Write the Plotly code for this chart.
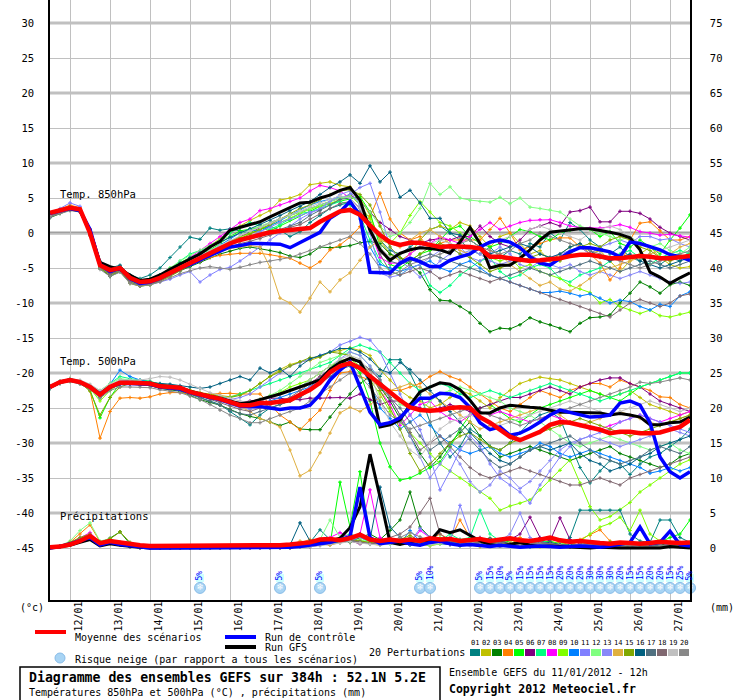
import plotly.graph_objects as go

W, H = 740, 700
FONT = "DejaVu Sans Mono"

# GEFS run of 11/01/2012 12h, one value every 6 h up to 384 h
HOURS = list(range(0, 385, 6))

DATE_LABELS = ["12/01", "13/01", "14/01", "15/01", "16/01", "17/01", "18/01", "19/01",
               "20/01", "21/01", "22/01", "23/01", "24/01", "25/01", "26/01", "27/01"]
DATE_HOURS = [12 + 24 * k for k in range(len(DATE_LABELS))]

LEFT_TICKS = [30, 25, 20, 15, 10, 5, 0, -5, -10, -15, -20, -25, -30, -35, -40, -45]
RIGHT_TICKS = [75, 70, 65, 60, 55, 50, 45, 40, 35, 30, 25, 20, 15, 10, 5, 0]

MEMBER_NAMES = ["01", "02", "03", "04", "05", "06", "07", "08", "09", "10",
                "11", "12", "13", "14", "15", "16", "17", "18", "19", "20"]
MEMBER_COLORS = ["#008080", "#c0c000", "#008000", "#ff8000", "#00ff00", "#800080", "#00ff80",
                 "#ff00ff", "#80ff00", "#0080ff", "#8080ff", "#80ff80", "#8888f8", "#e0b040",
                 "#80a800", "#006080", "#507080", "#806870", "#c0c0c0", "#888888"]

# snow risk (% of all scenarios)
SNOW_HOURS = [90, 138, 162, 222, 228, 258, 264, 270, 276, 282, 288, 294, 300, 306, 312, 318,
              324, 330, 336, 342, 348, 354, 360, 366, 372, 378, 384]
SNOW_PCT = [5, 5, 5, 5, 10, 5, 15, 10, 5, 15, 15, 15, 15, 20, 20, 20, 30, 30, 30, 20, 15, 15,
            20, 20, 15, 25, 5]

# ---------------- 850 hPa temperature (degC) ----------------
t850_mean = [2.9, 3.3, 3.6, 3.4, 0.0, -4.6, -5.3, -5.0, -6.4, -7.0, -6.9, -6.4, -5.7, -5.0, -4.3,
             -3.6, -2.9, -2.1, -1.5, -1.0, -0.6, -0.2, 0.1, 0.3, 0.4, 0.5, 0.7, 1.6, 2.3, 3.1,
             3.3, 2.6, 1.1, -0.3, -1.3, -1.7, -1.4, -1.4, -1.7, -2.0, -1.9, -1.9, -2.0, -2.2, -3.4,
             -3.4, -3.6, -3.9, -4.0, -3.9, -3.8, -3.6, -3.3, -3.1, -3.1, -3.4, -3.6, -3.6, -3.4, -3.3,
             -3.4, -3.6, -3.6, -3.4, -3.3]
t850_ctrl = [2.8, 3.2, 3.5, 3.2, 0.5, -4.5, -5.5, -5.0, -6.5, -7.2, -7.0, -6.5, -5.8, -5.0, -4.5,
             -3.8, -3.2, -2.6, -2.0, -1.8, -1.5, -1.5, -1.5, -1.6, -2.1, -1.4, -0.7, 0.1, 2.1, 3.0,
             4.5, 2.5, -5.6, -5.7, -5.7, -4.3, -3.6, -4.1, -4.8, -4.8, -3.9, -3.4, -3.0, -2.0, -1.3,
             -1.0, -1.3, -2.1, -3.4, -4.3, -4.6, -3.6, -2.7, -2.1, -2.1, -2.4, -2.7, -3.4, -1.3, -1.5,
             -1.9, -2.4, -3.1, -3.4, -3.9]
t850_gfs = [2.8, 3.3, 3.5, 3.2, 0.3, -4.2, -4.8, -5.2, -6.0, -6.8, -6.6, -6.0, -5.2, -4.5, -3.8,
            -3.0, -2.0, -1.2, 0.4, 0.8, 1.1, 1.6, 2.3, 3.0, 3.6, 4.3, 4.4, 5.0, 5.4, 6.1,
            6.5, 4.7, 0.4, -2.4, -3.9, -2.9, -2.4, -2.1, -2.2, -2.4, -2.9, -1.3, 0.8, -1.5, -5.0,
            -4.6, -4.6, -3.6, -2.4, -1.0, 0.1, 0.3, 0.4, 0.6, 0.6, 0.4, 0.1, -0.2, -0.7, -2.4,
            -5.6, -6.3, -7.2, -6.4, -5.7]

t850_p01 = [2.4, 3.0, 3.8, 3.5, 0.5, -4.0, -5.0, -4.6, -6.0, -6.5, -6.0, -5.0, -3.5, -2.0, -0.6,
            -0.9, 0.7, 0.4, 0.6, 0.3, 0.0, 0.5, 1.0, 0.4, -0.5, 0.2, 1.5, 2.5, 3.5, 4.0,
            4.4, 3.0, 1.5, -1.0, -2.5, -3.0, -2.0, -1.0, 0.5, 1.0, 0.0, -1.0, -2.5, -3.0, -2.0,
            -3.5, -2.5, -3.0, -1.5, -2.0, 0.0, -1.0, 1.5, 0.5, -1.0, -2.0, -3.0, -2.0, -3.5, -4.0,
            -3.0, -4.5, -3.5, -4.0, -2.5]
t850_p02 = [2.6, 3.2, 3.6, 3.3, 0.2, -4.6, -5.8, -5.2, -6.8, -7.3, -7.0, -6.2, -5.5, -4.5, -3.5,
            -2.8, -1.8, -0.8, 0.0, 1.0, 1.8, 2.5, 3.2, 4.7, 5.0, 5.5, 6.9, 7.1, 7.3, 6.8,
            6.6, 5.0, 2.5, -1.0, -3.0, -4.0, -3.0, -1.0, 0.5, 1.0, 0.5, 1.5, 1.0, -0.5, -2.0,
            -0.5, 0.0, -1.5, -3.0, -2.5, -4.0, -3.0, -2.0, -1.5, -3.0, -2.5, -4.0, -5.5, -4.0, -3.0,
            -2.0, -3.5, -4.5, -5.0, -4.8]
t850_p03 = [2.2, 2.8, 3.3, 3.0, -0.3, -5.0, -6.2, -5.5, -7.0, -7.5, -7.3, -6.8, -6.0, -5.4, -4.8,
            -4.2, -3.5, -3.0, -2.6, -2.2, -2.0, -2.2, -2.5, -2.8, -3.3, -3.5, -3.0, -2.0, -2.1, -2.0,
            -1.8, -1.4, -1.2, -1.5, -3.0, -3.5, -4.5, -5.7, -8.1, -9.6, -9.7, -10.5, -11.4, -12.9, -14.1,
            -13.6, -13.7, -13.1, -12.1, -12.7, -13.1, -13.6, -14.1, -12.9, -12.1, -12.0, -11.7, -10.0, -8.6, -7.0,
            -7.7, -8.6, -7.4, -7.0, -7.5]
t850_p04 = [2.8, 3.4, 4.0, 3.6, 0.6, -4.3, -5.3, -4.8, -6.2, -6.8, -6.5, -6.0, -5.5, -5.0, -4.5,
            -4.0, -3.5, -3.2, -3.0, -2.9, -2.9, -2.9, -3.1, -3.4, -3.6, -4.3, -5.0, -4.1, -2.4, -1.7,
            -0.6, 0.9, 2.3, 5.7, 2.0, 0.0, -1.0, -0.5, -2.5, -1.5, -1.0, -1.0, -1.0, -1.0, 0.5,
            2.1, 0.0, -2.4, -2.0, -1.5, -1.0, -0.7, -0.7, -2.0, -3.0, -4.3, -6.7, -5.0, -1.0, 1.4,
            1.6, 0.3, -1.0, -1.0, -0.5]
t850_p05 = [2.5, 3.1, 3.4, 3.1, -0.2, -4.8, -5.9, -5.3, -6.8, -7.2, -6.8, -6.0, -5.0, -4.2, -3.5,
            -3.0, -2.4, -1.5, -0.5, 0.3, 0.6, 0.8, 0.3, 1.0, 1.8, 2.5, 3.2, 3.8, 4.2, 4.5,
            4.8, 5.2, 3.0, -2.0, -4.5, -5.0, -4.0, -3.0, -2.5, -1.0, 0.5, 1.0, -0.5, -1.5, -2.0,
            -1.5, -0.5, 0.5, 0.2, -0.5, -1.0, 0.0, 0.4, 0.7, 0.5, -0.5, 0.2, -1.5, -2.0, -1.0,
            -2.0, -3.0, -1.0, 0.7, 2.6]
t850_p06 = [2.3, 2.9, 3.4, 3.1, -0.2, -4.7, -5.6, -5.1, -6.6, -7.1, -6.9, -6.5, -6.0, -5.3, -4.5,
            -3.8, -3.0, -2.0, -1.2, -0.5, 0.0, 0.8, 1.5, 2.0, 2.5, 3.0, 3.5, 4.0, 4.5, 5.0,
            5.5, 4.5, 3.0, 1.5, 0.5, -0.5, -1.0, -1.5, -1.0, -0.8, -1.0, -0.5, -0.5, 1.0, -0.5,
            -1.5, -2.0, -1.0, 0.5, 1.0, 1.5, 1.0, 3.0, 3.2, 3.7, 1.6, 1.6, 3.1, 3.1, 2.8,
            2.0, 0.8, 0.0, -0.5, -1.0]
t850_p07 = [2.6, 3.1, 3.7, 3.4, 0.3, -4.4, -5.4, -4.9, -6.4, -6.9, -6.6, -6.0, -5.2, -4.0, -3.0,
            -2.5, -2.0, -1.0, 0.0, 0.8, 1.5, 1.0, 0.5, 1.2, 2.0, 2.8, 3.0, 3.5, 4.0, 4.5,
            4.0, 2.5, -1.0, -4.0, -5.5, -6.0, -5.0, -4.5, -7.5, -8.5, -7.5, -6.0, -5.0, -4.0, -3.5,
            -5.5, -6.5, -6.0, -5.0, -4.5, -5.0, -6.5, -7.0, -6.0, -5.5, -5.0, -4.0, -3.0, -2.5, -3.5,
            -4.5, -3.5, -3.0, -2.5, -3.0]
t850_p08 = [2.5, 3.0, 3.5, 3.2, 0.0, -4.5, -5.4, -5.0, -6.5, -7.0, -6.8, -6.3, -5.5, -4.5, -3.5,
            -2.5, -1.5, -0.5, 0.5, 1.5, 2.0, 3.2, 3.5, 4.0, 4.5, 5.0, 6.0, 6.8, 6.5, 6.0,
            5.0, 3.5, 0.5, -3.5, -4.3, -4.3, -3.0, -2.0, -1.5, -0.5, -1.0, -1.5, -0.5, 0.5, 1.5,
            0.5, 1.0, 1.5, 1.8, 1.9, 1.9, 1.5, 1.0, 0.8, 0.7, 0.7, 0.9, 1.2, 0.8, 0.2,
            0.0, -0.3, -0.2, -0.4, -0.6]
t850_p09 = [2.4, 2.9, 3.4, 3.2, -0.1, -4.6, -5.7, -5.3, -6.9, -7.6, -7.4, -6.8, -6.0, -5.0, -4.2,
            -3.5, -2.5, -2.0, -1.2, -0.6, 0.0, 0.5, 1.2, 1.5, 2.2, 2.8, 3.4, 3.8, 4.2, 4.8,
            5.4, 4.0, 2.0, -1.0, -1.5, 0.0, 2.5, 4.5, 3.0, 1.5, 1.0, 0.0, -1.0, -2.0, -3.5,
            -4.0, -3.5, -5.0, -4.5, -5.5, -6.0, -6.5, -7.5, -8.0, -8.5, -10.0, -9.5, -10.5, -11.0, -11.5,
            -11.0, -11.8, -12.0, -11.6, -11.3]
t850_p10 = [2.7, 3.2, 3.6, 3.3, 0.1, -4.4, -5.5, -5.0, -6.6, -7.1, -6.9, -6.4, -5.6, -4.8, -4.0,
            -3.3, -2.6, -1.7, -0.8, 0.0, 0.5, 0.2, 1.0, 1.8, 2.5, 3.3, 4.0, 4.5, 4.8, 5.2,
            5.0, 2.0, -2.0, -4.5, -5.0, -5.5, -5.0, -4.5, -4.0, -5.0, -5.5, -4.5, -4.0, -5.0, -6.0,
            -6.5, -7.0, -7.5, -8.0, -8.5, -8.5, -8.3, -8.6, -9.0, -8.7, -9.3, -10.0, -9.6, -9.8, -10.5,
            -11.0, -10.2, -10.5, -9.0, -8.4]
t850_p11 = [2.3, 3.5, 4.3, 3.8, 0.3, -4.5, -5.3, -4.8, -6.6, -7.3, -7.4, -7.0, -6.6, -6.0, -5.5,
            -7.0, -6.0, -5.2, -4.9, -4.0, -3.0, -2.0, -1.0, 0.0, 1.0, 2.0, 2.8, 3.5, 4.5, 5.0,
            5.5, 6.5, 7.1, 3.0, -2.0, -4.0, -5.0, -6.3, -5.5, -4.0, -3.0, -2.0, -3.5, -4.0, -3.0,
            -2.0, -3.0, -4.5, -5.0, -4.0, -3.5, -3.0, -2.5, -2.0, -3.0, -2.0, -1.5, -1.0, -1.5, -0.5,
            -0.5, -1.0, -0.8, -1.5, -2.0]
t850_p12 = [2.5, 3.0, 3.5, 3.3, 0.2, -4.3, -5.2, -4.8, -6.3, -6.8, -6.5, -6.0, -5.0, -4.0, -3.2,
            -2.5, -1.8, -1.0, -0.5, 0.0, 0.5, 1.0, 1.5, 2.0, 2.5, 3.0, 3.5, 4.0, 4.5, 5.0,
            5.2, 4.5, 3.0, 1.0, -0.5, 0.0, 1.5, 3.5, 7.1, 5.5, 6.6, 5.0, 4.7, 4.5, 4.4,
            5.1, 4.2, 5.0, 3.7, 3.5, 3.3, 3.0, 2.0, 1.0, 0.5, 0.0, -0.5, -1.0, -0.5, -1.5,
            -2.0, -1.5, -2.5, -3.0, -2.0]
t850_p13 = [2.6, 3.1, 3.6, 3.4, 0.1, -4.6, -5.6, -5.1, -6.7, -7.2, -7.0, -6.5, -5.8, -5.0, -4.5,
            -3.8, -3.2, -2.4, -1.8, -1.0, -0.5, 0.2, 0.8, 1.5, 2.0, 2.5, 3.0, 3.3, 4.5, 5.5,
            6.0, 4.0, 0.0, -5.7, -6.3, -6.0, -5.0, -4.5, -3.5, -2.5, -2.0, -3.0, -2.5, -3.0, -4.0,
            -4.5, -4.0, -3.5, -3.0, -4.0, -4.5, -5.0, -4.5, -5.5, -6.0, -5.5, -6.0, -6.5, -6.0, -5.5,
            -6.0, -6.5, -7.0, -7.2, -7.0]
t850_p14 = [2.5, 3.1, 3.5, 3.2, 0.0, -4.5, -5.4, -5.1, -6.6, -7.0, -6.8, -6.4, -5.7, -5.0, -4.4,
            -3.8, -3.2, -2.7, -2.2, -2.0, -1.8, -2.0, -4.9, -9.3, -10.0, -11.3, -9.3, -7.0, -8.4, -6.7,
            -5.7, -3.9, -2.0, -1.0, -1.5, -2.0, -1.0, 0.0, 0.5, -0.5, -1.5, -2.5, -3.0, -2.0, -2.5,
            -3.0, -4.5, -5.5, -6.5, -7.5, -7.0, -8.0, -8.3, -7.5, -6.5, -5.5, -5.0, -4.5, -4.0, -3.5,
            -3.0, -2.5, -3.0, -2.0, -1.5]
t850_p15 = [2.4, 3.0, 3.4, 3.1, -0.3, -5.0, -6.0, -5.5, -7.2, -7.6, -7.4, -6.9, -6.2, -5.4, -4.6,
            -3.8, -3.0, -2.2, -1.5, -0.8, -0.2, 0.5, 1.2, 2.0, 2.8, 3.5, 4.0, 4.8, 5.5, 6.0,
            6.2, 5.5, 4.0, 1.0, -2.0, -3.5, -4.0, -3.0, -2.0, -1.5, -2.0, -3.0, -3.5, -4.5, -5.5,
            -5.0, -4.5, -4.0, -3.5, -3.0, -3.5, -4.0, -3.0, -2.0, -1.5, -2.0, -1.0, -0.5, -1.0, -2.0,
            -2.5, -3.5, -4.0, -3.5, -3.0]
t850_p16 = [2.6, 3.2, 3.7, 3.4, 0.4, -4.2, -5.2, -4.7, -6.3, -6.8, -6.6, -6.0, -5.2, -4.3, -3.5,
            -2.8, -2.0, -1.3, -0.6, 0.0, 0.6, 1.2, 1.8, 2.5, 3.2, 3.8, 4.5, 5.5, 6.5, 7.3,
            8.3, 7.1, 9.6, 7.3, 8.7, 5.1, 6.1, 4.3, 2.1, 2.1, 0.0, -0.3, -1.0, -2.0, -3.0,
            -2.5, -2.0, -1.5, -2.0, -3.0, -3.5, -3.0, -2.0, -1.5, -2.5, -3.5, -4.0, -3.5, -3.0, -4.0,
            -4.5, -5.0, -4.5, -4.0, -3.5]
t850_p17 = [2.5, 3.0, 3.4, 3.2, 0.1, -4.7, -5.8, -5.2, -6.8, -7.3, -7.1, -6.6, -5.9, -5.1, -4.4,
            -3.7, -3.0, -2.2, -1.6, -1.1, -0.8, -0.5, 0.0, 0.5, 1.0, 1.5, 2.5, 3.2, 4.0, 4.8,
            5.0, 3.5, 1.0, -2.5, -4.0, -4.5, -4.0, -3.5, -3.0, -3.5, -4.0, -4.5, -5.0, -5.5, -6.0,
            -6.5, -6.0, -5.5, -5.0, -5.5, -6.0, -5.5, -5.0, -4.5, -4.0, -4.5, -5.0, -5.5, -5.0, -4.5,
            -4.0, -4.5, -5.0, -4.5, -4.0]
t850_p18 = [2.4, 2.9, 3.3, 3.0, -0.2, -4.9, -5.9, -5.4, -7.0, -7.5, -7.3, -6.8, -6.0, -5.3, -4.6,
            -4.0, -3.3, -2.6, -2.0, -1.5, -1.2, -0.8, -0.3, 0.2, 0.8, 1.2, 2.0, 2.8, 3.5, 4.2,
            4.5, 3.0, 0.5, -3.0, -5.5, -6.0, -5.5, -5.0, -5.5, -6.5, -6.0, -5.5, -6.0, -6.5, -7.0,
            -6.5, -7.0, -7.5, -8.0, -8.5, -9.0, -9.5, -10.0, -10.5, -11.0, -11.5, -12.0, -11.0, -10.0, -9.5,
            -10.0, -10.5, -10.0, -9.0, -8.7]
t850_p19 = [2.6, 3.1, 3.5, 3.3, 0.2, -4.5, -5.5, -5.0, -6.5, -7.0, -6.8, -6.2, -5.5, -4.7, -4.0,
            -3.2, -2.5, -1.7, -1.0, -0.3, 0.3, 0.8, 1.4, 2.0, 2.6, 3.2, 3.8, 4.3, 4.8, 5.3,
            5.0, 3.5, 1.0, -2.0, -3.5, -3.0, -2.5, -2.0, -1.5, -1.0, -1.5, -2.0, -2.5, -2.0, -1.5,
            -1.0, -0.5, 0.0, 0.5, 1.0, 0.5, 0.0, -0.5, -1.0, 0.0, 0.5, 1.0, 0.5, -0.5, -1.5,
            -2.0, -2.5, -2.0, -1.5, -1.0]
t850_p20 = [2.3, 2.8, 3.2, 3.0, -0.4, -5.2, -6.2, -5.6, -7.2, -7.6, -7.4, -7.0, -6.4, -5.8, -5.4,
            -5.0, -4.8, -5.0, -5.2, -4.9, -4.5, -4.2, -4.0, -3.8, -3.5, -3.0, -2.5, -2.0, -1.5, -1.0,
            -0.5, -1.5, -3.0, -5.0, -6.0, -5.5, -4.5, -4.0, -3.5, -3.0, -2.5, -1.5, -1.0, -2.0, -2.5,
            -3.0, -2.5, -1.5, -1.0, 0.0, -0.5, -1.0, -1.5, -2.0, -2.5, -3.0, -3.5, -4.0, -4.5, -5.0,
            -4.5, -4.0, -3.5, -3.0, -2.5]

# ---------------- 500 hPa temperature (degC) ----------------
t500_mean = [-22.0, -21.3, -21.0, -21.3, -22.0, -23.1, -22.0, -21.4, -21.4, -21.4,
             -21.5, -21.9, -22.0, -22.1, -22.7, -23.1, -23.4, -23.7, -24.1, -24.6,
             -24.6, -24.3, -24.3, -24.1, -23.9, -23.1, -22.4, -21.4, -19.9, -19.0,
             -18.6, -19.3, -20.5, -21.7, -22.9, -23.9, -24.9, -25.3, -25.4, -25.3,
             -25.0, -24.9, -25.0, -26.3, -27.1, -28.1, -29.1, -29.6, -29.0, -28.4,
             -27.4, -27.0, -27.1, -27.4, -27.7, -28.1, -28.6, -28.4, -28.4, -28.6,
             -28.6, -28.5, -28.1, -27.7, -26.7]
t500_ctrl = [-22.0, -21.3, -21.0, -21.3, -22.0, -23.0, -22.0, -21.5, -21.5, -21.5,
             -21.6, -22.0, -22.1, -22.3, -22.8, -23.2, -23.5, -23.8, -24.2, -24.7,
             -24.8, -24.8, -25.0, -25.2, -25.0, -25.0, -24.6, -23.1, -21.0, -19.6,
             -18.4, -22.0, -25.6, -27.4, -27.1, -26.4, -24.9, -23.6, -23.6, -22.9,
             -23.0, -23.5, -24.9, -27.1, -28.1, -27.7, -28.9, -28.6, -27.9, -27.0,
             -26.0, -25.3, -25.6, -26.0, -26.3, -26.2, -26.0, -24.3, -24.0, -24.6,
             -27.1, -32.0, -34.1, -35.0, -34.1]
t500_gfs = [-22.0, -21.3, -21.0, -21.3, -22.0, -23.0, -22.0, -21.4, -21.4, -21.4,
            -21.5, -21.8, -22.0, -22.1, -22.6, -23.0, -23.3, -23.6, -24.0, -24.4,
            -24.2, -23.8, -23.5, -23.0, -22.5, -22.0, -21.5, -21.0, -19.5, -18.5,
            -17.9, -18.4, -21.0, -27.7, -27.4, -26.7, -24.6, -22.7, -22.0, -21.4,
            -21.6, -22.4, -23.9, -25.7, -25.7, -25.0, -24.6, -24.8, -24.9, -25.0,
            -25.3, -25.6, -25.6, -25.6, -25.6, -25.7, -26.0, -25.8, -26.0, -26.3,
            -27.4, -27.4, -27.1, -27.0, -26.3]

t500_p01 = [-22.2, -21.5, -21.0, -21.4, -22.2, -23.5, -22.3, -21.2, -21.2, -21.5,
            -21.6, -22.0, -22.0, -22.3, -23.0, -23.5, -24.0, -24.5, -25.5, -26.5,
            -27.4, -26.0, -25.0, -24.5, -24.0, -23.0, -22.0, -20.5, -19.5, -18.5,
            -18.0, -18.5, -19.5, -20.5, -18.1, -18.1, -20.0, -23.0, -27.0, -30.0,
            -32.0, -30.5, -28.0, -29.0, -30.5, -31.0, -30.0, -28.5, -27.0, -26.0,
            -25.5, -26.5, -30.0, -33.5, -35.7, -34.0, -32.5, -33.0, -34.5, -33.0,
            -32.0, -31.5, -30.5, -29.5, -28.0]
t500_p02 = [-22.0, -21.2, -20.8, -21.2, -21.8, -22.8, -21.8, -21.0, -21.0, -21.3,
            -21.3, -21.7, -21.9, -22.0, -22.4, -22.8, -23.0, -23.2, -23.4, -23.0,
            -22.5, -21.5, -20.5, -19.5, -18.8, -18.4, -18.2, -17.7, -17.0, -16.8,
            -16.4, -16.8, -17.5, -19.5, -21.0, -22.5, -23.5, -24.0, -25.0, -24.5,
            -23.5, -22.5, -23.0, -24.0, -25.0, -23.5, -22.5, -21.5, -21.0, -20.6,
            -20.8, -21.0, -21.5, -22.0, -22.5, -23.0, -23.5, -23.0, -22.5, -23.5,
            -24.5, -25.0, -25.5, -26.0, -25.5]
t500_p03 = [-22.1, -21.4, -21.1, -21.5, -22.1, -23.3, -22.2, -21.6, -21.6, -21.7,
            -21.8, -22.2, -22.4, -22.6, -23.2, -23.8, -24.2, -24.6, -25.2, -25.8,
            -26.2, -26.5, -27.0, -27.5, -27.0, -28.0, -28.1, -28.1, -26.3, -24.5,
            -23.0, -21.5, -20.5, -22.0, -24.0, -26.5, -29.0, -31.5, -33.5, -32.0,
            -30.0, -28.5, -27.0, -29.0, -30.5, -32.0, -31.5, -31.0, -30.5, -31.0,
            -31.5, -32.0, -32.5, -32.0, -31.5, -31.0, -30.5, -31.5, -32.0, -32.5,
            -33.0, -33.5, -33.0, -32.0, -31.5]
t500_p04 = [-22.0, -21.3, -21.0, -21.3, -22.5, -29.3, -25.5, -23.6, -23.5, -23.6,
            -23.4, -23.0, -22.8, -22.8, -23.0, -23.2, -23.0, -22.9, -22.9, -23.0,
            -23.0, -23.0, -24.5, -26.0, -27.0, -28.1, -26.7, -25.3, -22.5, -20.0,
            -19.8, -20.5, -21.0, -22.0, -22.5, -22.5, -22.0, -21.5, -20.5, -19.8,
            -20.5, -21.0, -22.0, -23.0, -24.0, -25.0, -25.5, -24.5, -23.5, -22.5,
            -23.0, -23.5, -22.5, -22.0, -21.5, -21.5, -22.0, -21.0, -21.5, -22.0,
            -22.5, -23.4, -23.5, -24.5, -25.0]
t500_p05 = [-22.2, -21.5, -21.2, -21.5, -22.4, -26.4, -23.5, -21.5, -21.2, -21.0,
            -21.2, -21.6, -21.8, -22.0, -22.6, -23.0, -23.5, -24.0, -24.4, -24.8,
            -24.5, -24.0, -23.5, -23.0, -22.5, -22.0, -21.0, -20.0, -19.0, -18.5,
            -18.5, -20.0, -24.0, -30.0, -33.4, -35.3, -35.0, -34.3, -33.5, -32.7,
            -30.6, -28.0, -26.0, -25.0, -24.5, -25.5, -26.5, -27.0, -26.0, -25.0,
            -24.5, -24.0, -23.5, -23.0, -22.5, -23.0, -23.5, -24.0, -23.0, -22.0,
            -21.5, -21.0, -20.5, -20.0, -20.0]
t500_p06 = [-22.0, -21.3, -21.0, -21.2, -21.9, -23.0, -22.0, -21.5, -21.4, -21.5,
            -21.7, -22.0, -22.2, -22.4, -22.8, -23.2, -23.5, -23.8, -24.0, -24.2,
            -24.0, -23.8, -23.6, -23.6, -23.8, -23.8, -23.6, -23.6, -23.5, -23.5,
            -23.6, -23.0, -23.8, -24.5, -24.0, -24.0, -24.5, -25.0, -25.5, -25.0,
            -24.5, -25.0, -25.5, -25.0, -24.5, -24.0, -23.5, -23.5, -23.0, -22.5,
            -22.0, -22.5, -23.0, -22.0, -21.5, -21.0, -20.7, -20.7, -21.5, -22.0,
            -23.0, -24.0, -24.5, -25.0, -25.5]
t500_p07 = [-21.9, -21.2, -20.9, -21.2, -21.8, -22.8, -21.5, -20.5, -20.8, -21.0,
            -21.2, -21.6, -21.8, -22.0, -22.5, -23.0, -23.2, -23.5, -23.5, -23.0,
            -22.5, -22.0, -21.5, -21.0, -20.5, -20.0, -19.5, -19.0, -18.5, -17.5,
            -16.5, -16.0, -16.5, -17.0, -18.5, -20.0, -21.5, -22.5, -22.0, -21.5,
            -22.0, -23.0, -23.5, -23.0, -22.5, -23.0, -23.5, -23.0, -22.5, -22.0,
            -21.5, -22.0, -22.5, -23.0, -23.5, -24.0, -23.5, -23.0, -22.5, -22.0,
            -21.5, -21.0, -20.5, -20.0, -20.0]
t500_p08 = [-22.0, -21.4, -21.0, -21.3, -22.0, -23.2, -22.0, -21.3, -21.3, -21.4,
            -21.5, -21.8, -22.0, -22.1, -22.6, -23.0, -23.3, -23.6, -24.0, -24.5,
            -24.3, -24.0, -23.5, -23.0, -22.5, -22.0, -21.5, -20.5, -19.5, -18.5,
            -18.0, -18.5, -20.0, -22.5, -24.5, -27.5, -26.0, -24.5, -24.0, -25.5,
            -26.5, -27.0, -26.0, -25.5, -26.0, -25.5, -26.0, -26.5, -27.0, -26.5,
            -26.0, -26.5, -27.0, -27.5, -28.0, -28.0, -27.5, -27.0, -26.5, -26.0,
            -26.5, -27.0, -26.5, -26.0, -25.5]
t500_p09 = [-22.1, -21.3, -21.0, -21.4, -22.2, -24.0, -22.5, -21.5, -21.5, -21.6,
            -21.7, -22.0, -22.2, -22.3, -22.8, -23.3, -23.6, -24.0, -24.3, -24.5,
            -24.2, -23.8, -23.3, -22.8, -22.0, -21.5, -21.0, -20.0, -19.0, -18.2,
            -18.0, -19.0, -21.0, -23.0, -25.5, -27.0, -28.5, -30.0, -31.5, -33.0,
            -34.0, -35.0, -36.0, -37.0, -37.9, -39.6, -39.0, -38.6, -38.1, -36.7,
            -35.3, -33.9, -32.4, -35.7, -39.1, -41.0, -40.5, -39.5, -38.5, -37.0,
            -36.0, -35.0, -34.0, -33.0, -32.4]
t500_p10 = [-22.0, -21.3, -20.9, -21.2, -22.0, -23.0, -21.6, -19.6, -20.5, -21.0,
            -21.3, -21.7, -22.0, -22.2, -22.7, -23.2, -23.5, -24.0, -24.4, -24.8,
            -25.0, -24.5, -24.0, -23.5, -23.0, -22.5, -22.0, -21.0, -20.0, -19.0,
            -18.5, -19.0, -21.5, -25.0, -26.5, -28.0, -27.0, -26.0, -27.5, -29.0,
            -30.0, -31.0, -31.5, -31.0, -30.5, -31.5, -32.0, -31.5, -31.0, -30.0,
            -30.5, -31.5, -32.0, -31.5, -31.0, -31.5, -32.0, -32.5, -33.0, -33.5,
            -34.3, -34.0, -33.5, -34.0, -33.5]
t500_p11 = [-22.2, -21.5, -21.1, -21.4, -22.1, -23.2, -22.0, -21.0, -21.1, -21.3,
            -21.5, -21.8, -22.0, -22.2, -22.6, -23.0, -23.2, -23.5, -23.8, -23.5,
            -23.0, -22.0, -21.0, -20.0, -19.0, -18.5, -18.0, -17.5, -17.0, -16.0,
            -15.5, -14.9, -15.3, -17.0, -20.0, -23.0, -26.0, -28.1, -32.0, -36.7,
            -34.0, -31.0, -29.0, -30.5, -33.0, -35.0, -36.0, -37.0, -38.6, -36.0,
            -34.0, -32.0, -30.5, -29.5, -29.0, -28.5, -28.0, -27.0, -26.5, -26.0,
            -26.5, -27.0, -27.5, -28.0, -28.5]
t500_p12 = [-22.0, -21.2, -20.8, -21.1, -21.8, -22.5, -21.5, -20.8, -21.0, -21.2,
            -21.4, -21.7, -21.9, -22.0, -22.5, -23.0, -23.4, -23.8, -24.2, -24.5,
            -24.2, -23.8, -23.2, -22.5, -21.5, -20.5, -19.5, -18.5, -18.0, -17.5,
            -17.0, -17.5, -19.0, -21.0, -23.0, -24.5, -25.0, -25.5, -24.0, -23.0,
            -22.5, -22.0, -22.5, -23.0, -23.5, -24.0, -25.0, -25.5, -26.0, -27.0,
            -28.0, -29.0, -30.0, -30.5, -30.0, -29.5, -29.0, -29.5, -30.0, -30.5,
            -31.0, -30.5, -30.0, -31.0, -31.5]
t500_p13 = [-22.1, -21.4, -21.1, -21.4, -22.1, -23.1, -22.0, -21.4, -21.5, -21.6,
            -21.6, -21.9, -22.1, -22.3, -22.8, -23.3, -23.6, -24.0, -24.5, -25.0,
            -25.2, -25.0, -24.5, -24.0, -23.5, -23.0, -22.0, -21.0, -19.5, -18.0,
            -17.0, -17.5, -19.0, -21.0, -23.5, -26.0, -29.0, -32.0, -35.0, -33.0,
            -31.0, -33.0, -35.5, -37.0, -36.0, -34.0, -35.0, -36.5, -35.5, -34.0,
            -32.5, -31.0, -30.0, -29.5, -29.0, -29.5, -30.0, -30.5, -30.0, -29.5,
            -29.0, -28.5, -28.0, -28.5, -29.0]
t500_p14 = [-22.0, -21.3, -21.0, -21.3, -22.0, -23.0, -22.0, -21.4, -21.4, -21.5,
            -21.6, -21.9, -22.1, -22.2, -22.7, -23.2, -23.5, -23.8, -24.2, -24.8,
            -25.5, -26.5, -27.0, -27.7, -31.0, -34.7, -33.9, -31.4, -28.6, -25.7,
            -24.9, -25.5, -24.5, -23.5, -22.5, -22.0, -21.5, -22.0, -23.0, -24.0,
            -25.0, -26.0, -27.0, -28.0, -27.5, -27.0, -26.5, -26.0, -25.5, -25.0,
            -25.5, -26.0, -27.0, -27.5, -27.0, -26.5, -26.0, -25.5, -26.0, -26.5,
            -27.0, -27.5, -27.0, -26.5, -26.0]
t500_p15 = [-22.1, -21.4, -21.0, -21.4, -22.6, -26.0, -23.5, -22.0, -21.5, -21.4,
            -21.5, -21.8, -22.0, -22.1, -22.5, -22.9, -23.1, -23.3, -23.5, -23.2,
            -22.5, -21.5, -20.5, -19.8, -19.0, -18.4, -17.8, -17.7, -17.0, -17.2,
            -17.5, -18.5, -20.0, -22.5, -25.0, -28.0, -31.5, -34.0, -33.0, -31.5,
            -30.0, -29.0, -28.5, -29.5, -30.5, -31.0, -30.0, -29.5, -29.0, -28.5,
            -28.0, -27.5, -27.0, -26.5, -27.0, -27.5, -28.0, -28.5, -29.0, -28.5,
            -28.0, -27.5, -27.0, -26.5, -26.0]
t500_p16 = [-21.9, -21.2, -20.9, -21.2, -21.9, -23.0, -21.8, -21.2, -21.1, -21.2,
            -21.3, -21.5, -21.6, -21.8, -22.0, -22.2, -22.0, -21.5, -21.0, -20.5,
            -21.0, -19.3, -20.0, -19.4, -20.5, -19.0, -18.0, -17.5, -17.0, -16.5,
            -16.5, -17.0, -18.0, -19.5, -20.0, -18.5, -19.5, -21.0, -22.5, -24.0,
            -25.5, -27.0, -28.5, -30.0, -31.5, -32.5, -33.0, -32.0, -31.0, -30.5,
            -31.0, -30.5, -30.0, -31.5, -32.5, -33.0, -34.0, -33.5, -33.0, -32.0,
            -31.5, -30.5, -30.0, -29.5, -29.0]
t500_p17 = [-22.1, -21.4, -21.1, -21.4, -22.1, -23.3, -22.2, -21.6, -21.6, -21.6,
            -21.8, -22.1, -22.3, -22.5, -23.0, -23.5, -24.0, -24.6, -25.3, -25.8,
            -26.0, -25.5, -25.0, -24.5, -24.0, -23.5, -22.5, -21.5, -20.5, -19.5,
            -19.0, -19.5, -20.5, -22.0, -23.5, -25.0, -27.0, -29.0, -31.0, -30.0,
            -29.0, -28.0, -29.5, -31.0, -32.5, -33.5, -33.0, -32.0, -31.0, -30.5,
            -30.0, -29.5, -29.0, -30.0, -31.0, -32.0, -32.5, -33.0, -32.5, -32.0,
            -31.0, -30.5, -31.0, -31.5, -30.5]
t500_p18 = [-22.0, -21.3, -21.0, -21.3, -22.0, -23.2, -22.2, -21.5, -21.5, -21.6,
            -21.7, -22.0, -22.2, -22.3, -22.8, -23.3, -23.7, -24.2, -24.7, -25.2,
            -25.5, -25.0, -24.5, -24.0, -23.5, -22.5, -21.5, -20.5, -19.5, -18.5,
            -18.0, -18.5, -19.5, -21.0, -23.5, -26.0, -28.5, -31.0, -30.0, -29.0,
            -30.5, -32.0, -33.5, -34.5, -35.0, -34.5, -34.0, -33.5, -34.0, -34.5,
            -35.0, -35.5, -36.0, -36.0, -35.5, -35.0, -35.5, -36.0, -35.0, -34.5,
            -34.0, -33.5, -33.0, -32.5, -32.0]
t500_p19 = [-21.8, -21.1, -20.8, -21.0, -21.6, -22.5, -21.6, -21.0, -21.0, -21.0,
            -20.8, -20.5, -20.6, -21.0, -21.6, -22.2, -22.8, -23.2, -23.6, -24.0,
            -24.2, -24.0, -23.5, -23.0, -22.5, -22.0, -21.0, -20.0, -19.0, -18.0,
            -17.5, -18.0, -20.0, -24.0, -27.0, -29.0, -31.0, -32.0, -30.0, -28.0,
            -27.0, -26.5, -26.0, -26.5, -27.0, -27.5, -27.0, -26.5, -26.0, -25.5,
            -25.0, -24.5, -24.0, -24.5, -25.0, -25.5, -26.0, -25.5, -25.0, -24.5,
            -24.0, -24.5, -25.0, -25.5, -25.0]
t500_p20 = [-22.2, -21.5, -21.2, -21.6, -22.3, -23.6, -22.5, -22.0, -22.0, -22.0,
            -22.1, -22.4, -22.6, -22.8, -23.3, -23.8, -24.5, -25.3, -26.0, -26.5,
            -27.1, -27.1, -26.5, -26.0, -25.5, -25.0, -24.0, -23.0, -22.0, -21.0,
            -20.0, -20.5, -22.0, -24.0, -26.0, -27.0, -28.0, -27.5, -27.0, -26.5,
            -26.0, -25.5, -25.0, -25.5, -26.0, -26.5, -27.0, -27.5, -27.0, -26.5,
            -26.0, -25.5, -25.0, -24.5, -24.0, -23.5, -23.0, -22.5, -22.0, -21.3,
            -21.5, -21.3, -21.0, -20.7, -21.0]

# ---------------- precipitation (mm / 6 h) ----------------
pr_mean = [0.1, 0.2, 0.5, 1.0, 1.7, 0.7, 1.0, 0.8, 0.5, 0.4, 0.3, 0.3, 0.3, 0.3, 0.3,
           0.3, 0.3, 0.3, 0.3, 0.3, 0.3, 0.3, 0.3, 0.4, 0.5, 0.6, 0.8, 1.2, 1.3, 1.1,
           1.4, 1.9, 1.2, 1.0, 1.2, 1.0, 1.2, 1.0, 1.4, 1.2, 1.3, 1.0, 1.2, 1.3, 1.0,
           1.2, 1.4, 1.1, 1.0, 1.2, 1.5, 1.1, 0.9, 1.0, 0.8, 0.7, 0.6, 0.8, 0.7, 0.6,
           0.7, 0.9, 0.8, 0.7, 0.8]
pr_ctrl = [0.0, 0.2, 0.6, 1.1, 1.5, 0.4, 0.8, 0.5, 0.3, 0.1, 0, 0, 0, 0, 0,
           0, 0, 0, 0, 0, 0, 0, 0, 0, 0.1, 0.2, 0.4, 0.6, 0.8, 1.2,
           1.6, 8.7, 1.5, 0.6, 0.8, 1.0, 0.6, 0.4, 0.8, 1.0, 0.6, 0.4, 0.5, 0.3, 0.2,
           0.4, 0.2, 0.1, 0.2, 0.3, 0.2, 0.1, 0.2, 0.3, 0.2, 0.1, 0.3, 0.5, 0.8, 3.0,
           0.6, 0.8, 2.4, 0.5, 0.3]
pr_gfs = [0.0, 0.2, 0.4, 0.8, 1.2, 0.3, 0.6, 0.4, 0.2, 0.1, 0, 0, 0, 0, 0,
          0, 0, 0, 0, 0, 0, 0, 0, 0.1, 0.2, 0.3, 0.5, 0.8, 1.0, 1.4,
          2.9, 5.9, 13.4, 7.3, 0.8, 0.5, 0.8, 1.2, 1.0, 2.6, 2.2, 2.6, 1.8, 1.0, 0.5,
          0.3, 0.5, 0.8, 0.4, 0.2, 0.3, 0.2, 0.1, 0.0, 0.0, 0.1, 0.0, 0.0, 0.0, 0.0,
          0.0, 0.0, 0.2, 0.1, 0.0]

pr_p01 = [0, 0.3, 0.8, 1.4, 1.8, 0.6, 1.0, 0.7, 0.3, 0.1, 0, 0, 0, 0, 0, 0, 0, 0, 0, 0, 0, 0, 0, 0, 0.2,
          0.5, 0.8, 2.6, 1.2, 0.8, 1.5, 2.0, 1.0, 0.6, 1.2, 0.8, 0.4, 1.0, 1.5, 0.6, 0.5, 1.2, 0.8, 0.4, 0.6,
          1.0, 0.5, 0.3, 0.6, 1.0, 0.8, 0.5, 1.5, 5.4, 5.4, 5.4, 5.4, 5.4, 2.0, 1.0, 0.8, 4.0, 4.0, 1.5, 0.8]
pr_p02 = [0, 0.2, 0.6, 1.2, 1.5, 0.5, 0.9, 0.6, 0.2, 0, 0, 0, 0, 0, 0, 0, 0, 0, 0, 0, 0, 0, 0, 0, 0,
          0.1, 0.3, 0.5, 0.8, 1.0, 1.8, 1.2, 0.6, 0.4, 0.8, 1.2, 0.8, 0.5, 0.3, 0.6, 1.0, 0.7, 0.4, 0.2, 0.5,
          0.8, 1.2, 0.6, 0.3, 0.2, 0.4, 0.2, 0.1, 0.3, 0.5, 0.2, 0.1, 0.3, 0.6, 0.4, 0.2, 0.5, 0.8, 0.3, 0.2]
pr_p03 = [0, 0.3, 0.7, 1.3, 1.9, 0.8, 1.4, 2.3, 0.6, 0.2, 0, 0, 0, 0, 0, 0, 0, 0, 0, 0, 0, 0, 0, 0, 0,
          0.2, 0.4, 0.6, 0.9, 1.2, 0.8, 1.5, 2.0, 1.2, 2.5, 4.0, 8.0, 3.0, 1.5, 0.8, 0.5, 0.3, 0.6, 1.0, 1.4,
          0.8, 0.5, 0.3, 0.2, 0.4, 0.6, 0.3, 0.2, 0.1, 0.3, 0.5, 0.3, 0.2, 0.1, 0.2, 0.4, 0.6, 0.3, 0.2, 0.5]
pr_p04 = [0, 0.2, 0.8, 2.0, 3.3, 0.9, 1.2, 0.8, 0.3, 0.1, 0, 0, 0, 0, 0, 0, 0, 0, 0, 0, 0, 0, 0, 0, 0.3,
          0.8, 1.2, 0.6, 0.4, 0.8, 1.0, 1.8, 1.2, 0.6, 0.8, 1.5, 1.0, 0.6, 1.2, 2.0, 1.2, 4.0, 1.5, 0.8, 0.5,
          0.6, 1.0, 1.5, 0.8, 0.4, 0.6, 0.8, 0.5, 1.2, 1.8, 2.6, 1.0, 0.5, 0.3, 0.2, 0.4, 0.2, 0.5, 0.8, 0.3]
pr_p05 = [0, 0.2, 0.6, 1.2, 1.6, 0.6, 1.0, 0.6, 0.3, 0, 0, 0, 0, 0, 0, 0, 0, 0, 0, 0, 0, 0, 0, 0, 0.2,
          0.4, 0.6, 0.8, 0.5, 9.4, 3.0, 10.9, 1.5, 0.8, 1.2, 0.8, 1.0, 0.6, 0.4, 1.0, 1.5, 0.8, 0.5, 0.6, 1.0,
          1.2, 0.8, 0.5, 0.3, 0.6, 1.0, 0.6, 0.4, 0.3, 0.2, 0.5, 0.8, 0.6, 0.4, 0.3, 0.5, 0.8, 1.5, 2.0, 4.0]
pr_p06 = [0, 0.2, 0.5, 1.0, 1.4, 0.5, 0.8, 0.5, 0.2, 0, 0, 0, 0, 0, 0, 0, 0, 0, 0, 0, 0, 0, 0, 0, 0,
          0.1, 0.2, 0.4, 0.6, 0.8, 1.0, 0.6, 0.8, 1.2, 0.9, 0.6, 0.5, 0.8, 1.0, 0.7, 0.5, 0.8, 1.2, 1.5, 1.0,
          0.8, 1.2, 2.0, 4.4, 1.5, 1.0, 4.3, 1.2, 0.6, 0.4, 0.3, 0.5, 0.4, 0.2, 0.3, 0.2, 0.4, 0.3, 0.2, 0.1]
pr_p07 = [0, 0.2, 0.6, 1.3, 1.8, 0.7, 1.1, 0.7, 0.3, 0.1, 0, 0, 0, 0, 0, 0, 0, 0, 0, 0, 0, 0, 0, 0, 0.1,
          0.3, 0.5, 0.8, 1.0, 1.5, 2.0, 1.5, 0.8, 0.5, 0.6, 1.0, 1.5, 0.8, 0.6, 1.0, 2.0, 1.2, 1.5, 5.4, 2.0,
          1.0, 0.6, 0.4, 0.8, 1.2, 0.6, 0.4, 0.3, 0.5, 0.8, 0.4, 0.3, 0.2, 0.4, 0.6, 0.3, 0.2, 0.4, 0.5, 0.3]
pr_p08 = [0, 0.2, 0.7, 1.5, 2.2, 0.8, 1.2, 0.7, 0.3, 0.1, 0, 0, 0, 0, 0, 0, 0, 0, 0, 0, 0, 0, 0, 0, 0.2,
          0.4, 0.6, 1.0, 1.5, 2.2, 1.5, 2.0, 8.3, 1.5, 0.8, 1.0, 0.6, 2.5, 1.5, 0.8, 0.6, 0.4, 0.8, 1.0, 1.2,
          0.8, 0.6, 0.4, 0.8, 0.5, 0.4, 0.3, 0.6, 0.4, 0.2, 0.3, 0.5, 0.4, 0.3, 0.2, 0.4, 0.3, 0.5, 0.6, 0.4]
pr_p09 = [0, 0.2, 0.6, 1.1, 1.5, 0.5, 0.9, 0.6, 0.2, 0, 0, 0, 0, 0, 0, 0, 0, 0, 0, 0, 0, 0, 0, 0, 0.1,
          0.2, 0.4, 0.6, 0.8, 1.0, 1.2, 0.8, 0.6, 0.5, 0.8, 1.0, 0.8, 0.6, 1.0, 1.5, 1.2, 0.8, 0.6, 0.5, 0.8,
          1.0, 0.6, 0.4, 0.3, 0.5, 0.8, 0.6, 0.4, 1.0, 2.0, 3.0, 3.5, 4.4, 2.5, 5.4, 2.0, 1.0, 0.5, 0.3, 0.2]
pr_p10 = [0, 0.2, 0.6, 1.2, 1.6, 0.6, 0.9, 0.6, 0.2, 0, 0, 0, 0, 0, 0, 0, 0, 0, 0, 0, 0, 0, 0, 0, 0.1,
          0.3, 0.5, 0.7, 0.9, 1.1, 1.4, 1.0, 0.6, 0.8, 1.0, 0.6, 2.5, 1.0, 0.6, 0.8, 1.0, 0.6, 0.4, 0.8, 1.2,
          0.8, 0.5, 0.3, 0.2, 0.4, 0.6, 0.4, 0.3, 0.2, 0.4, 0.5, 0.3, 0.2, 0.4, 0.3, 0.2, 0.3, 0.5, 0.4, 0.3]
pr_p11 = [0, 0.2, 0.6, 1.2, 1.7, 0.6, 1.0, 0.6, 0.3, 0.1, 0, 0, 0, 0, 0, 0, 0, 0, 0, 0, 0, 0, 0, 0, 0,
          0.2, 0.4, 0.6, 0.8, 1.0, 1.2, 1.5, 1.0, 0.6, 0.8, 1.2, 0.8, 2.8, 1.5, 1.0, 0.8, 6.1, 2.0, 1.0, 0.8,
          0.6, 0.4, 0.8, 1.2, 0.8, 0.6, 0.5, 0.4, 0.3, 0.5, 0.4, 0.3, 0.2, 0.3, 0.4, 0.3, 0.2, 0.3, 0.4, 0.2]
pr_p12 = [0, 0.3, 1.0, 2.5, 3.6, 1.0, 1.3, 0.8, 0.3, 0.1, 0, 0, 0, 0, 0, 0, 0, 0, 0, 0, 0, 0, 0, 0, 0.2,
          0.5, 0.8, 1.2, 4.0, 1.5, 1.0, 1.2, 0.8, 0.5, 0.6, 0.8, 1.0, 0.6, 0.4, 0.6, 0.8, 0.6, 0.5, 0.4, 0.3,
          0.5, 0.8, 0.6, 0.4, 0.3, 0.5, 0.6, 0.4, 0.3, 0.2, 0.4, 0.3, 0.2, 0.3, 0.5, 0.4, 0.3, 0.2, 0.3, 0.4]
pr_p13 = [0, 0.2, 0.6, 1.1, 1.5, 0.5, 0.9, 0.5, 0.2, 0, 0, 0, 0, 0, 0, 0, 0, 0, 0, 0, 0, 0, 0, 0, 0,
          0.1, 0.3, 0.5, 0.8, 1.0, 1.3, 0.9, 0.6, 0.5, 0.8, 1.0, 0.6, 0.5, 0.8, 1.2, 1.5, 1.0, 0.8, 0.6, 0.5,
          1.0, 2.0, 5.0, 1.5, 0.8, 0.6, 0.4, 0.3, 0.5, 0.4, 0.3, 0.2, 0.4, 0.3, 0.2, 0.3, 0.4, 0.3, 0.2, 0.3]
pr_p14 = [0, 0.2, 0.6, 1.2, 1.6, 0.6, 1.0, 0.6, 0.2, 0, 0, 0, 0, 0, 0, 0, 0, 0, 0, 0, 0, 0, 0, 0, 0.4,
          1.0, 0.8, 0.5, 0.6, 0.8, 1.0, 0.8, 0.6, 0.5, 0.7, 0.8, 0.6, 0.4, 0.5, 0.8, 1.0, 0.8, 0.6, 0.5, 0.4,
          0.6, 0.8, 0.5, 0.4, 0.3, 0.5, 0.4, 0.3, 0.2, 0.3, 0.4, 0.3, 0.2, 0.3, 0.4, 0.3, 0.2, 0.4, 0.3, 0.2]
pr_p15 = [0, 0.3, 0.8, 1.5, 2.0, 0.8, 1.3, 2.3, 0.8, 0.2, 0, 0, 0, 0, 0, 0, 0, 0, 0, 0, 0, 0, 0, 0, 0,
          0.2, 0.3, 0.5, 0.7, 0.9, 1.2, 1.0, 0.8, 0.6, 0.9, 1.2, 1.8, 1.0, 0.6, 0.8, 1.0, 0.8, 0.6, 0.8, 1.0,
          0.6, 0.4, 0.5, 0.8, 0.6, 0.4, 0.3, 0.5, 0.4, 0.3, 0.2, 0.3, 0.5, 0.4, 0.3, 0.2, 0.3, 0.4, 0.3, 0.2]
pr_p16 = [0, 0.2, 0.6, 1.2, 1.6, 0.6, 1.0, 0.6, 0.2, 0, 0, 0, 0, 0, 0, 0, 0, 0, 0, 0, 0, 0, 0, 0, 0.4,
          3.6, 1.0, 0.8, 0.6, 1.0, 1.5, 2.0, 1.2, 8.7, 3.0, 1.5, 1.0, 0.8, 0.6, 1.0, 1.2, 0.8, 0.6, 0.5, 0.8,
          1.0, 0.6, 0.4, 0.5, 0.6, 0.8, 0.5, 0.4, 0.3, 0.5, 0.6, 0.4, 0.3, 0.2, 0.4, 0.5, 0.3, 0.2, 0.3, 0.4]
pr_p17 = [0, 0.2, 0.5, 1.0, 1.4, 0.5, 0.8, 0.5, 0.2, 0, 0, 0, 0, 0, 0, 0, 0, 0, 0, 0, 0, 0, 0, 0, 0,
          0.1, 0.2, 0.4, 0.6, 0.8, 1.0, 0.8, 0.6, 0.8, 1.2, 0.8, 0.6, 0.5, 0.7, 1.0, 0.8, 0.6, 0.4, 0.6, 0.8,
          0.6, 0.4, 0.3, 0.5, 0.7, 0.5, 0.4, 0.3, 0.2, 0.4, 0.3, 0.2, 0.3, 0.4, 0.3, 0.2, 0.3, 0.2, 0.3, 0.2]
pr_p18 = [0, 0.2, 0.6, 1.1, 1.5, 0.6, 0.9, 0.6, 0.2, 0, 0, 0, 0, 0, 0, 0, 0, 0, 0, 0, 0, 0, 0, 0, 0,
          0.2, 0.3, 0.5, 0.8, 1.0, 1.2, 0.8, 0.6, 0.8, 1.5, 2.0, 3.0, 5.0, 7.1, 2.0, 1.0, 0.8, 0.6, 0.8, 1.0,
          0.8, 0.6, 0.4, 0.6, 0.8, 0.6, 0.4, 0.3, 0.2, 0.4, 0.5, 0.3, 0.2, 0.3, 0.4, 0.3, 0.2, 0.3, 0.4, 0.3]
pr_p19 = [0, 0.2, 0.5, 1.0, 1.3, 0.5, 0.8, 0.5, 0.2, 0, 0, 0, 0, 0, 0, 0, 0, 0, 0, 0, 0, 0, 0, 0, 0,
          0.1, 0.2, 0.3, 0.5, 0.7, 0.9, 0.7, 0.5, 0.4, 0.6, 0.8, 0.6, 0.4, 0.5, 0.7, 0.6, 0.4, 0.3, 0.5, 0.6,
          0.4, 0.3, 0.2, 0.4, 0.5, 0.3, 0.2, 0.3, 0.2, 0.1, 0.2, 0.3, 0.2, 0.1, 0.2, 0.1, 0.2, 0.3, 0.2, 0.1]
pr_p20 = [0, 0.2, 0.6, 1.2, 1.6, 0.6, 1.0, 0.6, 0.2, 0, 0, 0, 0, 0, 0, 0, 0, 0, 0, 0, 0, 0, 0, 0, 0,
          0.2, 0.4, 0.6, 0.8, 1.2, 1.5, 1.8, 1.2, 0.8, 1.0, 1.5, 2.2, 1.6, 1.0, 0.8, 0.6, 0.5, 0.8, 1.0, 0.7,
          0.5, 0.4, 0.6, 0.8, 0.6, 0.4, 0.3, 0.2, 0.4, 0.5, 0.3, 0.2, 0.3, 0.4, 0.3, 0.2, 0.3, 0.4, 0.3, 0.2]

T850_MEMBERS = [t850_p01, t850_p02, t850_p03, t850_p04, t850_p05, t850_p06, t850_p07, t850_p08,
                t850_p09, t850_p10, t850_p11, t850_p12, t850_p13, t850_p14, t850_p15, t850_p16,
                t850_p17, t850_p18, t850_p19, t850_p20]
T500_MEMBERS = [t500_p01, t500_p02, t500_p03, t500_p04, t500_p05, t500_p06, t500_p07, t500_p08,
                t500_p09, t500_p10, t500_p11, t500_p12, t500_p13, t500_p14, t500_p15, t500_p16,
                t500_p17, t500_p18, t500_p19, t500_p20]
PR_MEMBERS = [pr_p01, pr_p02, pr_p03, pr_p04, pr_p05, pr_p06, pr_p07, pr_p08, pr_p09, pr_p10,
              pr_p11, pr_p12, pr_p13, pr_p14, pr_p15, pr_p16, pr_p17, pr_p18, pr_p19, pr_p20]


def px(x):
    return x / W


def py(y):
    return 1 - y / H


# plot frame: x 50..690 px, y 0..600 px ; 7 px per degree / per mm
Y_RANGE = [-45 - 52 / 7, 30 + 23 / 7]
Y2_RANGE = [Y_RANGE[0] + 45, Y_RANGE[1] + 45]

fig = go.Figure()


def member_trace(y, color, axis="y"):
    return go.Scatter(x=HOURS, y=y, yaxis=axis, mode="lines+markers",
                      line=dict(color=color, width=1),
                      marker=dict(color=color, size=3, symbol="cross"),
                      hoverinfo="skip", showlegend=False)


def main_trace(y, color, width, axis="y"):
    return go.Scatter(x=HOURS, y=y, yaxis=axis, mode="lines",
                      line=dict(color=color, width=width),
                      hoverinfo="skip", showlegend=False)


for series in (T850_MEMBERS, T500_MEMBERS):
    for y, c in zip(series, MEMBER_COLORS):
        fig.add_trace(member_trace(y, c))
for y, c in zip(PR_MEMBERS, MEMBER_COLORS):
    fig.add_trace(member_trace(y, c, "y2"))

for gfs, ctrl, mean, axis in ((t850_gfs, t850_ctrl, t850_mean, "y"),
                              (t500_gfs, t500_ctrl, t500_mean, "y"),
                              (pr_gfs, pr_ctrl, pr_mean, "y2")):
    fig.add_trace(main_trace(gfs, "#000000", 3, axis))
    fig.add_trace(main_trace(ctrl, "#0000ff", 3.5, axis))
    fig.add_trace(main_trace(mean, "#ff0000", 4.5, axis))

# snow risk row
fig.add_trace(go.Scatter(x=SNOW_HOURS, y=[-49.3] * len(SNOW_HOURS), mode="markers",
                         marker=dict(color="#ccffff", size=8, symbol="square"),
                         hoverinfo="skip", showlegend=False, cliponaxis=False))
fig.add_trace(go.Scatter(x=SNOW_HOURS, y=[-50.7] * len(SNOW_HOURS), mode="markers+text",
                         marker=dict(color="#a8d4f4", size=11, line=dict(color="#88bce8", width=1)),
                         text=["❄"] * len(SNOW_HOURS), textposition="middle center",
                         textfont=dict(family="DejaVu Sans", size=9, color="#ffffff"),
                         hoverinfo="skip", showlegend=False, cliponaxis=False))

annotations = []
for h, p in zip(SNOW_HOURS, SNOW_PCT):
    annotations.append(dict(x=h, y=-49.8, xref="x", yref="y", text=f"{p}%", textangle=-90,
                            showarrow=False, xanchor="center", yanchor="bottom",
                            font=dict(family=FONT, size=8, color="#0000ff"), borderpad=0))

for h, lab in zip(DATE_HOURS, DATE_LABELS):
    annotations.append(dict(x=h + 4.5, y=py(601), xref="x", yref="paper", text=lab,
                            textangle=-90, showarrow=False, xanchor="center", yanchor="top",
                            font=dict(family=FONT, size=10, color="#000000"), borderpad=0))

panel_titles = [("Temp. 850hPa", 194), ("Temp. 500hPa", 361), ("Précipitations", 516)]
for txt, ypx in panel_titles:
    annotations.append(dict(x=px(58), y=py(ypx), xref="paper", yref="paper", text=txt,
                            showarrow=False, xanchor="left", yanchor="middle",
                            font=dict(family=FONT, size=10.5, color="#000000")))


def label(txt, x, y, size=10, bold=False, color="#000000"):
    annotations.append(dict(x=px(x), y=py(y), xref="paper", yref="paper",
                            text=f"<b>{txt}</b>" if bold else txt, showarrow=False,
                            xanchor="left", yanchor="middle", borderpad=0,
                            font=dict(family=FONT, size=size, color=color)))


label("(°c)", 19, 607)
label("(mm)", 709, 607)
label("Moyenne des scénarios", 74, 637)
label("Run de contrôle", 264, 637)
label("Run GFS", 264, 647)
label("Risque neige (par rapport a tous les scénarios)", 74, 659)
label("20 Perturbations", 368, 652)
label("Diagramme des ensembles GEFS sur 384h : 52.1N 5.2E", 28, 677, size=13.2, bold=True)
label("Températures 850hPa et 500hPa (°C) , précipitations (mm)", 28, 692)
label("Ensemble GEFS du 11/01/2012 - 12h", 448, 672)
label("Copyright 2012 Meteociel.fr", 448, 689, size=11.5, bold=True)
annotations.append(dict(x=px(60), y=py(658), xref="paper", yref="paper", text="❄",
                        showarrow=False, font=dict(family="DejaVu Sans", size=9, color="#ffffff")))

shapes = []
# heavier grid every 10 degrees, darker line at 0
for v in (30, 20, 10, -10, -20, -30, -40):
    shapes.append(dict(type="line", xref="x", yref="y", x0=0, x1=384, y0=v, y1=v,
                       line=dict(color="#c0c0c0", width=3), layer="below"))
shapes.append(dict(type="line", xref="x", yref="y", x0=0, x1=384, y0=0, y1=0,
                   line=dict(color="#a0a0a0", width=3), layer="below"))

# legend keys
for x0, x1, y, c in ((35, 66, 632, "#ff0000"), (225, 256, 637, "#0000ff"), (225, 256, 647, "#000000")):
    shapes.append(dict(type="line", xref="paper", yref="paper", x0=px(x0), x1=px(x1),
                       y0=py(y), y1=py(y), line=dict(color=c, width=4)))
shapes.append(dict(type="circle", xref="paper", yref="paper", x0=px(55), x1=px(65),
                   y0=py(663), y1=py(653), fillcolor="#a8d4f4", line=dict(color="#88bce8", width=1)))
for k, (name, c) in enumerate(zip(MEMBER_NAMES, MEMBER_COLORS)):
    x0 = 470 + 11 * k
    shapes.append(dict(type="rect", xref="paper", yref="paper", x0=px(x0), x1=px(x0 + 10),
                       y0=py(656), y1=py(649), fillcolor=c, line=dict(width=0)))
    annotations.append(dict(x=px(x0 + 5), y=py(643), xref="paper", yref="paper", text=name,
                            showarrow=False, xanchor="center", yanchor="middle", borderpad=0,
                            font=dict(family=FONT, size=7, color="#000000")))

# title frame
shapes.append(dict(type="rect", xref="paper", yref="paper", x0=px(20), x1=px(440),
                   y0=py(667), y1=py(703), line=dict(color="#000000", width=1.5)))

fig.update_layout(
    width=W, height=H, autosize=False,
    margin=dict(l=0, r=0, t=0, b=0),
    paper_bgcolor="#ffffff", plot_bgcolor="#ffffff",
    showlegend=False, hovermode=False,
    font=dict(family=FONT, size=10, color="#000000"),
    xaxis=dict(domain=[px(50), px(690)], range=[0, 384], tickvals=DATE_HOURS,
               showticklabels=False, ticks="", showgrid=True, gridcolor="#c0c0c0", gridwidth=1,
               zeroline=False, showline=True, linecolor="#000000", linewidth=1.5),
    yaxis=dict(domain=[1 - 600 / H, 1], range=Y_RANGE, tickvals=LEFT_TICKS,
               ticktext=[str(v) for v in LEFT_TICKS], ticks="outside", ticklen=12,
               tickcolor="rgba(0,0,0,0)", showgrid=True, gridcolor="#c0c0c0", gridwidth=1,
               zeroline=False, showline=True, linecolor="#000000", linewidth=1.5,
               tickfont=dict(family=FONT, size=10.5)),
    yaxis2=dict(overlaying="y", side="right", range=Y2_RANGE, tickvals=RIGHT_TICKS,
                ticktext=[str(v) for v in RIGHT_TICKS], ticks="outside", ticklen=16,
                tickcolor="rgba(0,0,0,0)", showgrid=False, zeroline=False, showline=True,
                linecolor="#000000", linewidth=1.5, tickfont=dict(family=FONT, size=10.5)),
    shapes=shapes,
    annotations=annotations,
)

# the page body has a default 8px margin; drop it so the figure sits at the window corner
fig.write_html("out.html", config={"displayModeBar": False},
               post_script="document.body.style.margin='0';document.body.style.overflow='hidden';")
